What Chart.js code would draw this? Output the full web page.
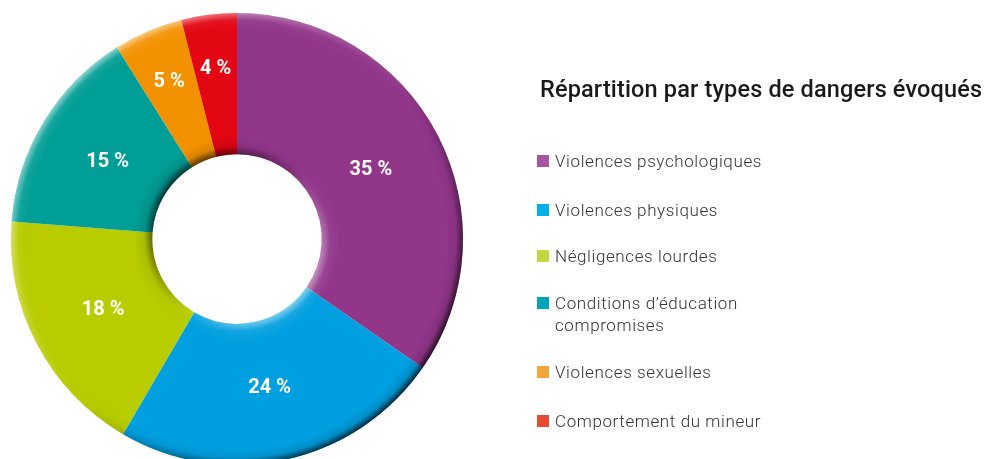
<!DOCTYPE html>
<html><head><meta charset="utf-8">
<script src="https://cdn.jsdelivr.net/npm/chart.js@4.4.1/dist/chart.umd.min.js"></script>
<style>
html,body{margin:0;padding:0;background:#fff;width:987px;height:459px;overflow:hidden;}
#wrap{position:absolute;left:0;top:0;width:987px;height:480px;}
#title{position:absolute;left:540px;top:75px;font-family:Roboto,sans-serif;font-weight:500;font-size:23.5px;color:#1a1a1a;white-space:nowrap;letter-spacing:0.15px;}
#legend{position:absolute;left:537px;top:0;font-family:Roboto,sans-serif;font-weight:300;font-size:17px;color:#333;letter-spacing:0.6px;}
.item{position:absolute;left:0;white-space:nowrap;line-height:22px;}
.sw{position:absolute;left:0;top:5px;width:12px;height:12px;}
.tx{position:absolute;left:18px;top:0;}
</style></head>
<body>
<div id="wrap"><canvas id="c" width="987" height="480"></canvas></div>
<div id="title">Répartition par types de dangers évoqués</div>
<div id="legend"></div>
<script>
const categories = ["Violences psychologiques","Violences physiques","Négligences lourdes","Conditions d’éducation compromises","Violences sexuelles","Comportement du mineur"];
const legendLines = [["Violences psychologiques"],["Violences physiques"],["Négligences lourdes"],["Conditions d’éducation","compromises"],["Violences sexuelles"],["Comportement du mineur"]];
const values = [35,24,18,15,5,4];
const labels = ["35 %","24 %","18 %","15 %","5 %","4 %"];
const sliceColors = ["#92368a","#009fe0","#b8cc00","#009e96","#f39200","#e30613"];
const legendColors = ["#a5579e","#00aee8","#c6d53e","#00a5b6","#f5a33c","#e84b35"];
const legendTops = [150,199,245,292,361,410];

const leg = document.getElementById('legend');
legendLines.forEach((lines,i)=>{
  const d=document.createElement('div');d.className='item';d.style.top=legendTops[i]+'px';
  const s=document.createElement('div');s.className='sw';s.style.background=legendColors[i];d.appendChild(s);
  const t=document.createElement('div');t.className='tx';t.innerHTML=lines.join('<br>');d.appendChild(t);
  leg.appendChild(d);
});

function rimLayer(w,h,x,y,r0,r1,fadeOut,lightFirst){
  const oc=document.createElement('canvas');oc.width=w;oc.height=h;const c=oc.getContext('2d');
  const rg=c.createRadialGradient(x,y,r0,x,y,r1);
  if(fadeOut){
    rg.addColorStop(0,'rgba(0,0,0,0)');rg.addColorStop(0.55,'rgba(0,0,0,0.15)');rg.addColorStop(1,'rgba(0,0,0,1)');
  } else {
    rg.addColorStop(0,'rgba(0,0,0,1)');rg.addColorStop(0.45,'rgba(0,0,0,0.15)');rg.addColorStop(1,'rgba(0,0,0,0)');
  }
  c.fillStyle=rg;c.beginPath();c.arc(x,y,r1,0,Math.PI*2);c.arc(x,y,r0,0,Math.PI*2,true);c.fill();
  c.globalCompositeOperation='source-in';
  const R=r1;
  const lg=c.createLinearGradient(x-R*0.7,y-R*0.7,x+R*0.7,y+R*0.7);
  if(lightFirst){lg.addColorStop(0,'rgba(255,255,255,0.55)');lg.addColorStop(0.45,'rgba(255,255,255,0.05)');lg.addColorStop(0.6,'rgba(0,0,0,0.1)');lg.addColorStop(1,'rgba(0,0,0,0.75)');}
  else {lg.addColorStop(0,'rgba(0,0,0,0.75)');lg.addColorStop(0.45,'rgba(0,0,0,0.15)');lg.addColorStop(0.6,'rgba(255,255,255,0.1)');lg.addColorStop(1,'rgba(255,255,255,0.6)');}
  c.fillStyle=lg;c.fillRect(0,0,w,h);
  return oc;
}

const labelPlugin = {
  id:'sliceLabels',
  afterDatasetsDraw(chart){
    const ctx=chart.ctx; const meta=chart.getDatasetMeta(0);
    const a0=meta.data[0].getProps(['x','y','innerRadius','outerRadius'],true);
    ctx.save();
    const W=chart.width,H=chart.height;
    ctx.drawImage(rimLayer(W,H,a0.x,a0.y,a0.outerRadius-16,a0.outerRadius,true,true),0,0);
    ctx.drawImage(rimLayer(W,H,a0.x,a0.y,a0.innerRadius,a0.innerRadius+18,false,false),0,0);
    ctx.font='bold 20px Roboto, sans-serif';ctx.fillStyle='#fff';ctx.textAlign='center';ctx.textBaseline='middle';
    meta.data.forEach((arc,i)=>{
      const {x,y,startAngle,endAngle,innerRadius,outerRadius}=arc.getProps(['x','y','startAngle','endAngle','innerRadius','outerRadius'],true);
      const mid=(startAngle+endAngle)/2;
      const f = values[i]<10?0.62:0.47;
      const r=innerRadius+(outerRadius-innerRadius)*f;
      ctx.fillText(labels[i],x+Math.cos(mid)*r,y+Math.sin(mid)*r+1);
    });
    ctx.restore();
  }
};

new Chart(document.getElementById('c'),{
  type:'doughnut',
  data:{labels:categories,datasets:[{data:values,backgroundColor:sliceColors,borderWidth:0}]},
  options:{
    responsive:false,animation:false,cutout:'37.5%',
    layout:{padding:{left:11,right:524,top:13,bottom:15}},
    plugins:{legend:{display:false},tooltip:{enabled:false}}
  },
  plugins:[labelPlugin]
});
</script>
</body></html>
